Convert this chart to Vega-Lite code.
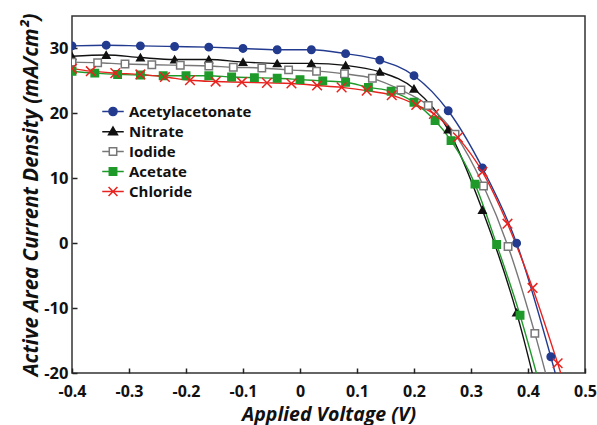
{
  "$schema": "https://vega.github.io/schema/vega-lite/v6.json",
  "width": 513,
  "height": 357,
  "autosize": {"type": "none"},
  "padding": {"left": 72, "top": 16, "right": 12, "bottom": 52},
  "background": "white",
  "config": {
    "view": {"stroke": "#333", "strokeWidth": 1.5},
    "font": "Open Sans",
    "legend": {
      "orient": "none", "legendX": 33.5, "legendY": 88, "title": null,
      "symbolSize": 55, "symbolStrokeWidth": 1.5,
      "labelFont": "Open Sans", "labelFontSize": 15, "labelFontWeight": "bold", "labelColor": "#111",
      "labelOffset": 8.5, "rowPadding": 4, "padding": 0
    }
  },
  "datasets": {
    "jv": [
      {"V": -0.40, "J": 30.4, "Anion": "Acetylacetonate"},
      {"V": -0.34, "J": 30.5, "Anion": "Acetylacetonate"},
      {"V": -0.28, "J": 30.4, "Anion": "Acetylacetonate"},
      {"V": -0.22, "J": 30.3, "Anion": "Acetylacetonate"},
      {"V": -0.16, "J": 30.2, "Anion": "Acetylacetonate"},
      {"V": -0.10, "J": 30.0, "Anion": "Acetylacetonate"},
      {"V": -0.04, "J": 29.8, "Anion": "Acetylacetonate"},
      {"V": 0.02, "J": 29.8, "Anion": "Acetylacetonate"},
      {"V": 0.08, "J": 29.2, "Anion": "Acetylacetonate"},
      {"V": 0.14, "J": 28.2, "Anion": "Acetylacetonate"},
      {"V": 0.20, "J": 25.8, "Anion": "Acetylacetonate"},
      {"V": 0.26, "J": 20.4, "Anion": "Acetylacetonate"},
      {"V": 0.32, "J": 11.6, "Anion": "Acetylacetonate"},
      {"V": 0.38, "J": 0.0, "Anion": "Acetylacetonate"},
      {"V": 0.44, "J": -17.5, "Anion": "Acetylacetonate"},
      {"V": 0.50, "J": -38.0, "Anion": "Acetylacetonate"},
      {"V": -0.40, "J": 28.8, "Anion": "Nitrate"},
      {"V": -0.34, "J": 29.0, "Anion": "Nitrate"},
      {"V": -0.28, "J": 28.6, "Anion": "Nitrate"},
      {"V": -0.22, "J": 28.3, "Anion": "Nitrate"},
      {"V": -0.16, "J": 28.3, "Anion": "Nitrate"},
      {"V": -0.10, "J": 27.9, "Anion": "Nitrate"},
      {"V": -0.04, "J": 27.7, "Anion": "Nitrate"},
      {"V": 0.02, "J": 27.7, "Anion": "Nitrate"},
      {"V": 0.08, "J": 27.4, "Anion": "Nitrate"},
      {"V": 0.14, "J": 26.4, "Anion": "Nitrate"},
      {"V": 0.20, "J": 23.8, "Anion": "Nitrate"},
      {"V": 0.26, "J": 17.5, "Anion": "Nitrate"},
      {"V": 0.32, "J": 5.1, "Anion": "Nitrate"},
      {"V": 0.38, "J": -10.7, "Anion": "Nitrate"},
      {"V": 0.44, "J": -32.0, "Anion": "Nitrate"},
      {"V": -0.40, "J": 27.9, "Anion": "Iodide"},
      {"V": -0.355, "J": 27.8, "Anion": "Iodide"},
      {"V": -0.307, "J": 27.6, "Anion": "Iodide"},
      {"V": -0.26, "J": 27.5, "Anion": "Iodide"},
      {"V": -0.21, "J": 27.4, "Anion": "Iodide"},
      {"V": -0.16, "J": 27.3, "Anion": "Iodide"},
      {"V": -0.117, "J": 27.1, "Anion": "Iodide"},
      {"V": -0.067, "J": 27.0, "Anion": "Iodide"},
      {"V": -0.02, "J": 26.7, "Anion": "Iodide"},
      {"V": 0.029, "J": 26.5, "Anion": "Iodide"},
      {"V": 0.078, "J": 26.1, "Anion": "Iodide"},
      {"V": 0.127, "J": 25.4, "Anion": "Iodide"},
      {"V": 0.177, "J": 23.6, "Anion": "Iodide"},
      {"V": 0.225, "J": 21.2, "Anion": "Iodide"},
      {"V": 0.272, "J": 16.8, "Anion": "Iodide"},
      {"V": 0.322, "J": 8.8, "Anion": "Iodide"},
      {"V": 0.365, "J": -0.5, "Anion": "Iodide"},
      {"V": 0.412, "J": -13.9, "Anion": "Iodide"},
      {"V": 0.46, "J": -30.0, "Anion": "Iodide"},
      {"V": -0.40, "J": 26.5, "Anion": "Acetate"},
      {"V": -0.36, "J": 26.2, "Anion": "Acetate"},
      {"V": -0.32, "J": 26.0, "Anion": "Acetate"},
      {"V": -0.28, "J": 25.9, "Anion": "Acetate"},
      {"V": -0.24, "J": 25.8, "Anion": "Acetate"},
      {"V": -0.20, "J": 25.8, "Anion": "Acetate"},
      {"V": -0.16, "J": 25.8, "Anion": "Acetate"},
      {"V": -0.12, "J": 25.6, "Anion": "Acetate"},
      {"V": -0.08, "J": 25.5, "Anion": "Acetate"},
      {"V": -0.04, "J": 25.4, "Anion": "Acetate"},
      {"V": 0.00, "J": 25.2, "Anion": "Acetate"},
      {"V": 0.04, "J": 25.0, "Anion": "Acetate"},
      {"V": 0.08, "J": 24.8, "Anion": "Acetate"},
      {"V": 0.12, "J": 24.0, "Anion": "Acetate"},
      {"V": 0.16, "J": 23.4, "Anion": "Acetate"},
      {"V": 0.20, "J": 21.7, "Anion": "Acetate"},
      {"V": 0.237, "J": 18.9, "Anion": "Acetate"},
      {"V": 0.265, "J": 15.8, "Anion": "Acetate"},
      {"V": 0.307, "J": 9.1, "Anion": "Acetate"},
      {"V": 0.345, "J": -0.2, "Anion": "Acetate"},
      {"V": 0.386, "J": -11.1, "Anion": "Acetate"},
      {"V": 0.427, "J": -24.0, "Anion": "Acetate"},
      {"V": -0.40, "J": 26.9, "Anion": "Chloride"},
      {"V": -0.367, "J": 26.5, "Anion": "Chloride"},
      {"V": -0.324, "J": 26.2, "Anion": "Chloride"},
      {"V": -0.28, "J": 26.0, "Anion": "Chloride"},
      {"V": -0.237, "J": 25.6, "Anion": "Chloride"},
      {"V": -0.193, "J": 25.1, "Anion": "Chloride"},
      {"V": -0.148, "J": 24.9, "Anion": "Chloride"},
      {"V": -0.102, "J": 24.8, "Anion": "Chloride"},
      {"V": -0.058, "J": 24.7, "Anion": "Chloride"},
      {"V": -0.015, "J": 24.6, "Anion": "Chloride"},
      {"V": 0.03, "J": 24.3, "Anion": "Chloride"},
      {"V": 0.073, "J": 24.0, "Anion": "Chloride"},
      {"V": 0.117, "J": 23.5, "Anion": "Chloride"},
      {"V": 0.161, "J": 22.8, "Anion": "Chloride"},
      {"V": 0.204, "J": 21.3, "Anion": "Chloride"},
      {"V": 0.235, "J": 19.9, "Anion": "Chloride"},
      {"V": 0.277, "J": 16.3, "Anion": "Chloride"},
      {"V": 0.32, "J": 11.0, "Anion": "Chloride"},
      {"V": 0.364, "J": 3.0, "Anion": "Chloride"},
      {"V": 0.408, "J": -6.9, "Anion": "Chloride"},
      {"V": 0.452, "J": -18.5, "Anion": "Chloride"},
      {"V": 0.496, "J": -31.0, "Anion": "Chloride"}
    ]
  },
  "resolve": {
    "scale": {"stroke": "independent", "fill": "independent", "shape": "independent"},
    "legend": {"stroke": "independent", "fill": "independent", "shape": "independent"}
  },
  "layer": [
    {
      "mark": {"type": "rule", "color": "#222", "strokeWidth": 1.5},
      "encoding": {"x": {"datum": 0, "type": "quantitative"}}
    },
    {
      "mark": {"type": "rule", "color": "#222", "strokeWidth": 1.5},
      "encoding": {"y": {"datum": 0, "type": "quantitative"}}
    },
    {
      "data": {"name": "jv"},
      "mark": {"type": "line", "interpolate": "monotone", "strokeWidth": 1.4, "clip": true},
      "encoding": {
        "x": {
          "field": "V", "type": "quantitative",
          "scale": {"domain": [-0.4, 0.5], "nice": false, "zero": false},
          "axis": {
            "values": [-0.4, -0.35, -0.3, -0.25, -0.2, -0.15, -0.1, -0.05, 0, 0.05, 0.1, 0.15, 0.2, 0.25, 0.3, 0.35, 0.4, 0.45, 0.5],
            "labelExpr": "indexof(['-0.4','-0.3','-0.2','-0.1','0','0.1','0.2','0.3','0.4','0.5'], '' + datum.value) >= 0 ? '' + datum.value : ''",
            "grid": false, "domain": false, "tickSize": -5, "tickWidth": 1.5, "tickColor": "#222",
            "labelFont": "Open Sans", "labelFontSize": 16, "labelFontWeight": "bold", "labelColor": "#111",
            "labelPadding": 15, "labelOverlap": false, "labelFlush": false,
            "title": "Applied Voltage (V)", "titleFont": "Open Sans", "titleFontSize": 19.5,
            "titleFontWeight": "bold", "titleFontStyle": "italic", "titleColor": "#111", "titlePadding": 6
          }
        },
        "y": {
          "field": "J", "type": "quantitative",
          "scale": {"domain": [-20, 35], "nice": false, "zero": false},
          "axis": {
            "values": [-20, -15, -10, -5, 0, 5, 10, 15, 20, 25, 30],
            "labelExpr": "datum.value % 10 == 0 ? '' + datum.value : ''",
            "grid": false, "domain": false, "tickSize": -5, "tickWidth": 1.5, "tickColor": "#222",
            "labelFont": "Open Sans", "labelFontSize": 16.5, "labelFontWeight": "bold", "labelColor": "#111",
            "labelPadding": 9, "labelOverlap": false, "labelFlush": false,
            "title": "Active Area Current Density (mA/cm²)", "titleFont": "Open Sans", "titleFontSize": 20.5,
            "titleFontWeight": "bold", "titleFontStyle": "italic", "titleColor": "#111", "titlePadding": 2
          }
        },
        "stroke": {
          "field": "Anion", "type": "nominal",
          "scale": {"domain": ["Acetylacetonate", "Nitrate", "Iodide", "Acetate", "Chloride"],
                    "range": ["#233b8f", "#111111", "#777777", "#1f9a2a", "#e8231f"]},
          "legend": null
        }
      }
    },
    {
      "data": {"name": "jv"},
      "mark": {"type": "point", "size": 55, "strokeWidth": 1.5, "opacity": 1, "clip": true},
      "encoding": {
        "x": {"field": "V", "type": "quantitative"},
        "y": {"field": "J", "type": "quantitative"},
        "stroke": {
          "field": "Anion", "type": "nominal",
          "scale": {"domain": ["Acetylacetonate", "Nitrate", "Iodide", "Acetate", "Chloride"],
                    "range": ["#233b8f", "#111111", "#777777", "#1f9a2a", "#e8231f"]},
          "legend": null
        },
        "fill": {
          "field": "Anion", "type": "nominal",
          "scale": {"domain": ["Acetylacetonate", "Nitrate", "Iodide", "Acetate", "Chloride"],
                    "range": ["#233b8f", "#111111", "#ffffff", "#1f9a2a", "transparent"]},
          "legend": null
        },
        "shape": {
          "field": "Anion", "type": "nominal",
          "scale": {"domain": ["Acetylacetonate", "Nitrate", "Iodide", "Acetate", "Chloride"],
                    "range": ["circle", "triangle-up", "square", "square", "M-1.3,-1.3L1.3,1.3M-1.3,1.3L1.3,-1.3"]},
          "legend": null
        }
      }
    },
    {
      "data": {"name": "jv"},
      "transform": [{"filter": "false"}],
      "mark": {"type": "point", "size": 55, "strokeWidth": 1.5, "opacity": 1},
      "encoding": {
        "stroke": {
          "field": "Anion", "type": "nominal",
          "scale": {"domain": ["Acetylacetonate", "Nitrate", "Iodide", "Acetate", "Chloride"],
                    "range": ["#233b8f", "#111111", "#777777", "#1f9a2a", "#e8231f"]}
        },
        "fill": {
          "field": "Anion", "type": "nominal",
          "scale": {"domain": ["Acetylacetonate", "Nitrate", "Iodide", "Acetate", "Chloride"],
                    "range": ["#233b8f", "#111111", "#ffffff", "#1f9a2a", "transparent"]}
        },
        "shape": {
          "field": "Anion", "type": "nominal",
          "scale": {"domain": ["Acetylacetonate", "Nitrate", "Iodide", "Acetate", "Chloride"],
                    "range": [
                      "M-2.9,0H-1.1M1.1,0H2.9M-1.1,0A1.1,1.1 0 1,1 1.1,0A1.1,1.1 0 1,1 -1.1,0Z",
                      "M-2.9,0.1H2.9M0,-1.2L1.2,0.9L-1.2,0.9Z",
                      "M-2.9,0H-1M1,0H2.9M-1,-1H1V1H-1Z",
                      "M-2.9,0H2.9M-1,-1H1V1H-1Z",
                      "M-2.9,0H2.9M-1.2,-1.2L1.2,1.2M-1.2,1.2L1.2,-1.2"
                    ]}
        }
      }
    }
  ]
}
